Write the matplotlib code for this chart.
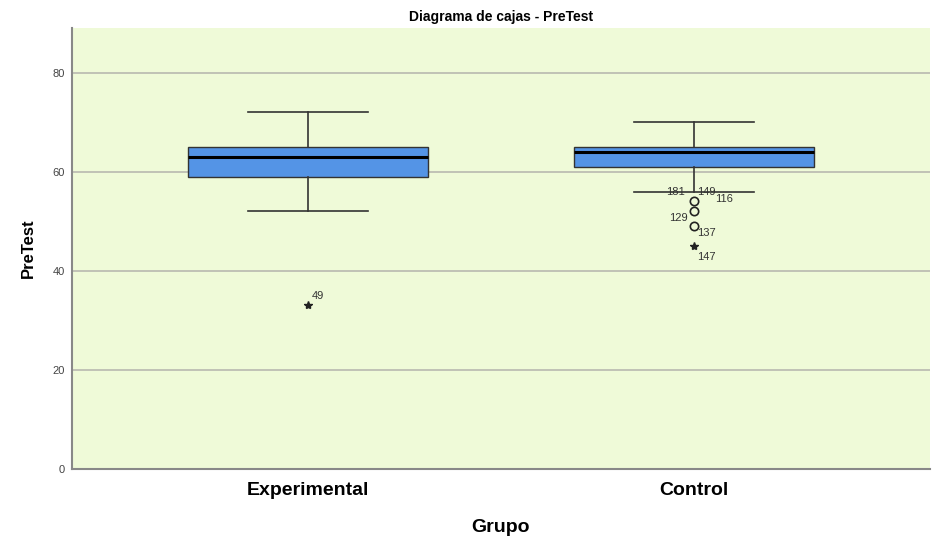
import matplotlib.pyplot as plt

plt.rcParams['font.family'] = ['Liberation Sans', 'DejaVu Sans']

# Datos
grupos = ['Experimental', 'Control']
bigote_inf = [52, 56]
q1 = [59, 61]
mediana = [63, 64]
q3 = [65, 65]
bigote_sup = [72, 70]

# valores atipicos (circulo) y extremos (estrella)
atip_grupo = [2, 2, 2]
atip_valor = [54, 52, 49]
extr_grupo = [1, 2]
extr_valor = [33, 45]

# etiquetas de casos: grupo, valor, texto, desplazamiento (pt)
etq_grupo = [1, 2, 2, 2, 2, 2, 2]
etq_valor = [33, 54, 54, 54, 52, 49, 45]
etq_texto = ['49', '181', '149', '116', '129', '137', '147']
etq_dx = [3, -20, 2, 15, -18, 2, 2]
etq_dy = [7, 7, 7, 2, -5, -5, -8]

fondo = '#EFFAD8'
azul = '#5494E6'

fig = plt.figure(figsize=(9.41, 5.54), dpi=100)
ax = fig.add_axes([0.0765, 0.1534, 0.9115, 0.7961])
ax.set_facecolor(fondo)

stats = []
for i in range(len(grupos)):
    stats.append({'whislo': bigote_inf[i], 'q1': q1[i], 'med': mediana[i],
                  'q3': q3[i], 'whishi': bigote_sup[i], 'fliers': []})

ax.bxp(stats, positions=[1, 2], widths=0.622, patch_artist=True,
       boxprops=dict(facecolor=azul, edgecolor='#333333', linewidth=1),
       medianprops=dict(color='black', linewidth=2.2),
       whiskerprops=dict(color='#333333', linewidth=1.2),
       capprops=dict(color='#333333', linewidth=1.2),
       capwidths=0.311, zorder=3)

ax.plot(atip_grupo, atip_valor, 'o', markerfacecolor='none',
        markeredgecolor='#222222', markersize=6, markeredgewidth=1.2, zorder=4)
ax.plot(extr_grupo, extr_valor, '*', color='#222222', markersize=6, zorder=4)

for g, v, t, dx, dy in zip(etq_grupo, etq_valor, etq_texto, etq_dx, etq_dy):
    ax.annotate(t, (g, v), xytext=(dx, dy), textcoords='offset points',
                fontsize=8, color='#333333', va='center', ha='left')

ax.set_xlim(0.389, 2.611)
ax.set_ylim(0, 89)
ax.set_yticks([0, 20, 40, 60, 80])
ax.yaxis.grid(True, color='#B8B8B0', linewidth=1.2)
ax.set_axisbelow(True)

ax.set_xticks([1, 2])
ax.set_xticklabels(grupos, fontsize=14, fontweight='bold')
ax.tick_params(axis='x', length=0, pad=9)
ax.tick_params(axis='y', length=0, labelsize=8, labelcolor='#444444', pad=5)

for lado in ['top', 'right']:
    ax.spines[lado].set_visible(False)
for lado in ['left', 'bottom']:
    ax.spines[lado].set_color('#888888')
    ax.spines[lado].set_linewidth(1.5)

ax.set_xlabel('Grupo', fontsize=14, fontweight='bold', labelpad=15)
ax.set_ylabel('PreTest', fontsize=12, fontweight='bold', labelpad=12)
ax.set_title('Diagrama de cajas - PreTest', fontsize=10, fontweight='bold', pad=5)

fig.savefig('out.png', dpi=100)
